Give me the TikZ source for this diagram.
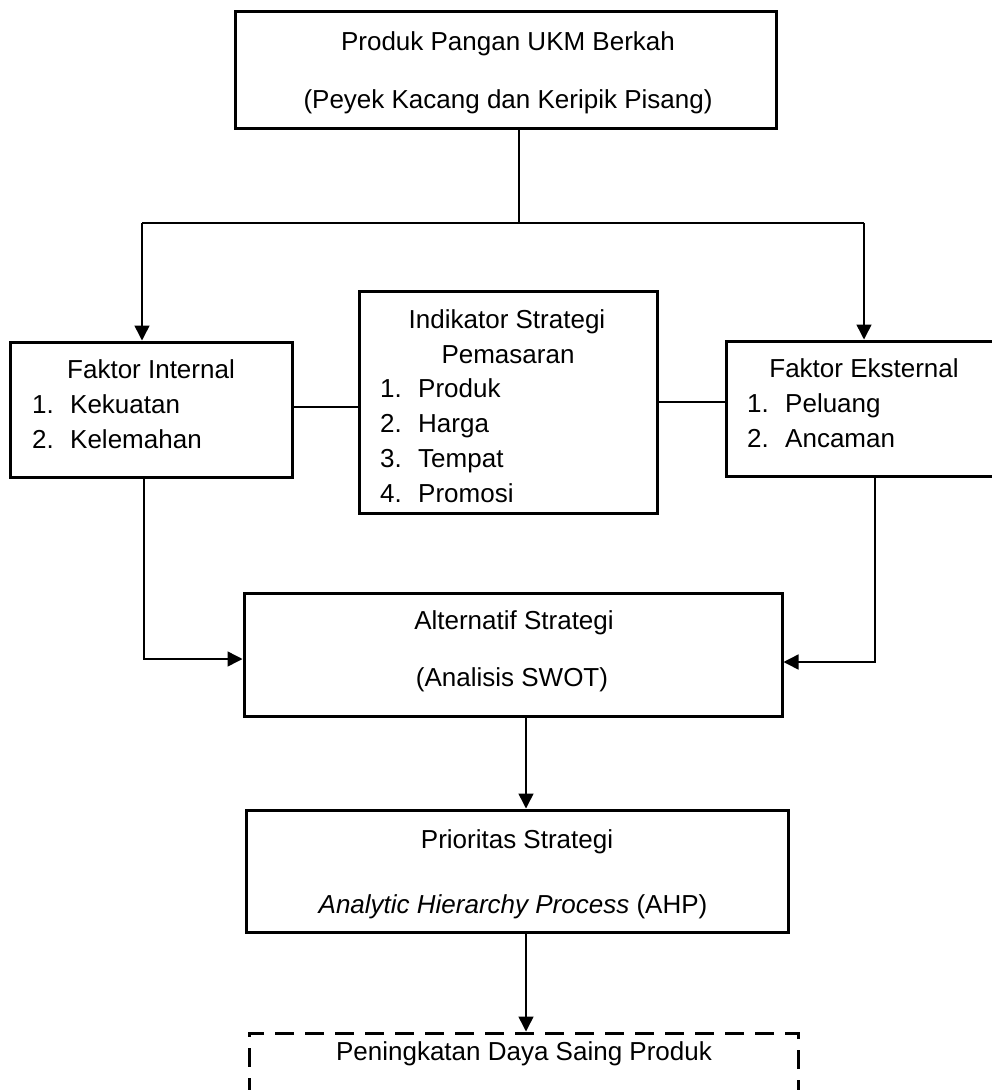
\documentclass[tikz,border=0pt]{standalone}
\usepackage{fontspec}
\setmainfont{Liberation Sans}
\usetikzlibrary{arrows.meta}
\begin{document}
\begin{tikzpicture}[x=1pt,y=-1pt,
  box/.style={draw, line width=3pt, inner sep=0pt, fill=none},
  dbox/.style={draw, line width=3pt, inner sep=0pt, dash pattern=on 19pt off 11pt},
  conn/.style={line width=1.5pt},
  arr/.style={line width=1.5pt, -{Triangle[width=15pt,length=15pt]}},
  txt/.style={inner sep=0pt, font=\fontsize{26pt}{31pt}\selectfont, anchor=base},
  itm/.style={inner sep=0pt, font=\fontsize{26pt}{31pt}\selectfont, anchor=base west}]
\useasboundingbox (0,0) rectangle (992,1090);
\fill[white] (0,0) rectangle (992,1090);
\clip (0,0) rectangle (992,1090);

% boxes
\node[box, minimum width=541pt, minimum height=117pt] (top) at (505.5,69.5) {};
\node[box, minimum width=282pt, minimum height=135pt] (int) at (151,409.5) {};
\node[box, minimum width=298pt, minimum height=222pt] (ind) at (508,402) {};
\node[box, minimum width=270pt, minimum height=135pt] (ext) at (861,408.5) {};
\node[box, minimum width=538pt, minimum height=123pt] (alt) at (513,654.5) {};
\node[box, minimum width=542pt, minimum height=122pt] (pri) at (517,871) {};
\node[dbox, minimum width=549pt, minimum height=117pt] (fin) at (523.5,1091.5) {};

% texts
\node[txt] (t1) at (508,50) {Produk Pangan UKM Berkah};
\node[txt] (t2) at (508,108) {(Peyek Kacang dan Keripik Pisang)};

\node[txt] (i0) at (151,378) {Faktor Internal};
\node[itm] (i1n) at (32,413) {1.};
\node[itm] (i1) at (70,413) {Kekuatan};
\node[itm] (i2n) at (32,448) {2.};
\node[itm] (i2) at (70,448) {Kelemahan};

\node[txt] (k0) at (507,328) {Indikator Strategi};
\node[txt] (k0b) at (508,363) {Pemasaran};
\node[itm] (k1n) at (380,397) {1.};
\node[itm] (k1) at (418,397) {Produk};
\node[itm] (k2n) at (380,432) {2.};
\node[itm] (k2) at (418,432) {Harga};
\node[itm] (k3n) at (380,467) {3.};
\node[itm] (k3) at (418,467) {Tempat};
\node[itm] (k4n) at (380,502) {4.};
\node[itm] (k4) at (418,502) {Promosi};

\node[txt] (e0) at (864,377) {Faktor Eksternal};
\node[itm] (e1n) at (747,412) {1.};
\node[itm] (e1) at (785,412) {Peluang};
\node[itm] (e2n) at (747,447) {2.};
\node[itm] (e2) at (785,447) {Ancaman};

\node[txt] (a1) at (514,629) {Alternatif Strategi};
\node[txt] (a2) at (512,686) {(Analisis SWOT)};

\node[txt] (p1) at (517,848) {Prioritas Strategi};
\node[txt] (p2) at (513,913) {\textit{Analytic Hierarchy Process} (AHP)};

\node[txt] (f1) at (524,1060) {Peningkatan Daya Saing Produk};

% connectors
\coordinate (j) at (519,223);
\coordinate (jL) at (142,223);
\coordinate (jR) at (864,223);
\draw[conn] (top.south -| j) -- (j);
\draw[conn] (jL) -- (jR);
\draw[arr] (jL) -- (jL |- int.north);
\draw[arr] (jR) -- (jR |- ext.north);
\draw[conn] (int.east |- 0,407) -- (ind.west |- 0,407);
\draw[conn] (ind.east |- 0,402) -- (ext.west |- 0,402);
\coordinate (bL) at (144,659);
\coordinate (bR) at (875,662);
\draw[arr] (int.south -| bL) -- (bL) -- (alt.west |- bL);
\draw[arr] (ext.south -| bR) -- (bR) -- (alt.east |- bR);
\coordinate (mc) at (526,0);
\draw[arr] (alt.south -| mc) -- (pri.north -| mc);
\draw[arr] (pri.south -| mc) -- (fin.north -| mc);
\end{tikzpicture}
\end{document}
